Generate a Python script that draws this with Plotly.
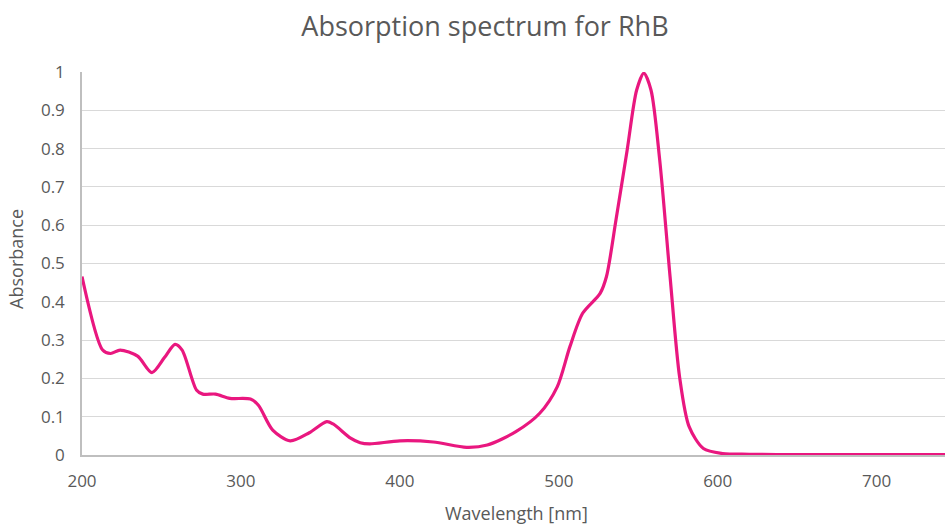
import plotly.graph_objects as go

wavelength = [200, 213, 218, 224, 235, 244, 252, 258.5, 263, 272, 276, 284, 293, 306, 311, 320, 331, 343, 354, 358, 369, 375, 381, 400, 421, 442, 455, 473, 488, 499, 507, 515, 526, 530, 536, 543, 549, 553.5, 558, 563.5, 570, 576, 582, 591, 603, 620, 650, 700, 750]
absorbance = [0.466, 0.274, 0.265, 0.274, 0.258, 0.215, 0.255, 0.289, 0.274, 0.170, 0.159, 0.159, 0.148, 0.146, 0.130, 0.065, 0.037, 0.058, 0.087, 0.081, 0.044, 0.032, 0.029, 0.037, 0.034, 0.020, 0.026, 0.061, 0.109, 0.178, 0.283, 0.370, 0.422, 0.466, 0.614, 0.796, 0.953, 0.997, 0.953, 0.770, 0.466, 0.204, 0.074, 0.017, 0.004, 0.002, 0.001, 0.001, 0.001]

x_ticks = [200, 300, 400, 500, 600, 700]
y_ticks = [0, 0.1, 0.2, 0.3, 0.4, 0.5, 0.6, 0.7, 0.8, 0.9, 1]
y_tick_labels = ["0", "0.1", "0.2", "0.3", "0.4", "0.5", "0.6", "0.7", "0.8", "0.9", "1"]

grey = "#595959"
fig = go.Figure()
fig.add_trace(go.Scatter(
    x=wavelength, y=absorbance, mode="lines",
    line=dict(color="#E9177F", width=3.2, shape="spline", smoothing=0.8),
    showlegend=False, hoverinfo="x+y"))

fig.update_layout(
    width=945, height=526,
    paper_bgcolor="white", plot_bgcolor="white",
    margin=dict(l=82, r=0, t=72, b=71),
    font=dict(family="Open Sans", color=grey, size=17),
    title=dict(text="Absorption spectrum for RhB", x=0.5132, xref="container", xanchor="center",
               y=0.9487, yref="container", yanchor="middle", font=dict(size=27, color=grey)),
    xaxis=dict(range=[200, 743], tickvals=x_ticks, ticks="outside", ticklen=10, tickcolor="rgba(0,0,0,0)",
               showgrid=False, showline=True, linecolor="#bfbfbf", linewidth=1.5, zeroline=False,
               tickfont=dict(size=17, color=grey)),
    yaxis=dict(range=[0, 1], tickvals=y_ticks, ticktext=y_tick_labels,
               ticks="outside", ticklen=12, tickcolor="rgba(0,0,0,0)",
               showgrid=True, gridcolor="#d9d9d9", gridwidth=1.2,
               showline=True, linecolor="#bfbfbf", linewidth=1.5, zeroline=False,
               tickfont=dict(size=17, color=grey)),
    annotations=[
        dict(text="Wavelength [nm]", xref="paper", yref="paper", x=0.503, y=-0.152,
             xanchor="center", yanchor="middle", showarrow=False, font=dict(size=18, color=grey)),
        dict(text="Absorbance", xref="paper", yref="paper", x=-0.0765, y=0.512, textangle=-90,
             xanchor="center", yanchor="middle", showarrow=False, font=dict(size=18, color=grey)),
    ],
)

fig.write_html("out.html", config={"displayModeBar": False},
               post_script="document.body.style.margin='0';")
